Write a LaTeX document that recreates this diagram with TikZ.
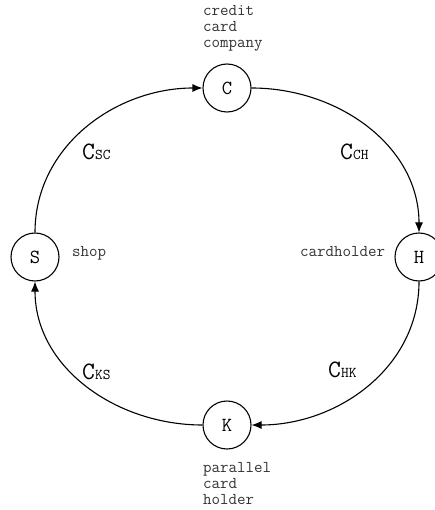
\documentclass[tikz,border=0pt]{standalone}
\usepackage{fontspec}
\usetikzlibrary{arrows.meta}
\begin{document}
\begin{tikzpicture}[x=1pt,y=-1pt,
  state/.style={circle,draw,line width=1.1pt,minimum size=48pt,inner sep=0pt,font=\ttfamily\fontsize{20}{20}\selectfont},
  lbl/.style={inner sep=0pt,font=\ttfamily\fontsize{16.5}{16}\selectfont,align=left,text=black!80},
  clbl/.style={inner sep=0pt,anchor=base west},
  flow/.style={line width=1.1pt,-{Latex[length=10pt,width=8pt]}}]
\useasboundingbox (0,0) rectangle (435,510);
\node[state] (C) at (227,88) {C};
\node[state] (H) at (419,257) {H};
\node[state] (K) at (227,425) {K};
\node[state] (S) at (35,257) {S};
\node[lbl,anchor=north west] (lc) at (203,5) {credit\\card\\company};
\node[lbl,anchor=north west] (lk) at (203,462) {parallel\\card\\holder};
\node[lbl,anchor=base west] (ls) at (72,256) {shop};
\node[lbl,anchor=base west] (lh) at (300,256) {cardholder};
\newcommand{\clab}[1]{{\ttfamily\fontsize{25}{25}\selectfont C}{\ttfamily\fontsize{15}{16}\selectfont #1}}
\node[clbl] (csc) at (82,160) {\clab{SC}};
\node[clbl] (cch) at (340,160) {\clab{CH}};
\node[clbl] (cks) at (82,379) {\clab{KS}};
\node[clbl] (chk) at (328,377) {\clab{HK}};
\draw[flow] (C.east) to[out=0,in=90] (H.north);
\draw[flow] (H.south) to[out=-90,in=0] (K.east);
\draw[flow] (K.west) to[out=180,in=-90] (S.south);
\draw[flow] (S.north) to[out=90,in=180] (C.west);
\end{tikzpicture}
\end{document}
